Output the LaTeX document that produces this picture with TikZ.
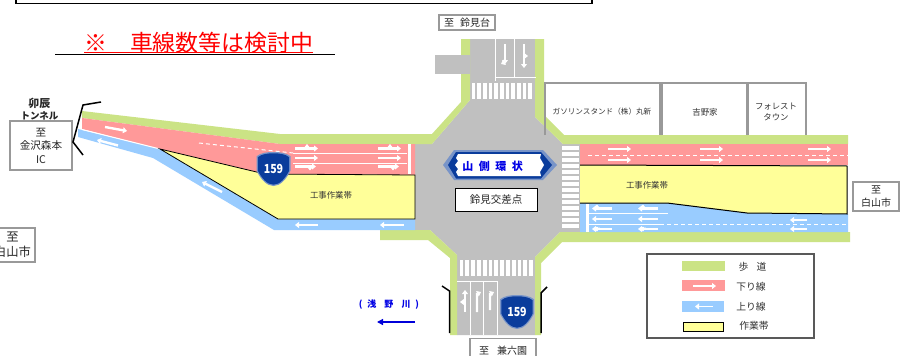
\documentclass[tikz,border=0pt]{standalone}
\usepackage{fontspec}
\setmainfont{Noto Sans CJK JP}
\usetikzlibrary{arrows.meta,patterns}
\definecolor{walk}{HTML}{CBE385}
\definecolor{down}{HTML}{FF9999}
\definecolor{up}{HTML}{99CCFF}
\definecolor{work}{HTML}{FFFF99}
\definecolor{pave}{HTML}{C0C0C0}
\definecolor{signblue}{HTML}{0A3C9C}
\definecolor{frame}{HTML}{999999}
\tikzset{
 wa/.style={white,line width=2.4pt,-{Triangle[length=4pt,width=6pt]}},
 wl/.style={white,line width=1pt},
 wd/.style={white,line width=1pt,dash pattern=on 4pt off 3pt},
 lbl/.style={inner sep=0pt,align=center,text=black!80,font=\fontsize{8.4}{11}\selectfont},
 lgl/.style={inner sep=0pt,align=center,text=black!80,font=\fontsize{9.8}{11}\selectfont},
 gbox/.style={draw=frame,line width=1.2pt,fill=white,align=center,inner sep=0pt,text=black!85},
 tun/.style={line width=1.5pt,black},
 wz/.style={draw=black,line width=.8pt,fill=work}
}
\newcommand{\shieldpath}[3]{%
 (#1-#3,#2-.75*#3) .. controls (#1-.75*#3,#2-.95*#3) and (#1-.4*#3,#2-#3) .. (#1,#2-#3) .. controls (#1+.4*#3,#2-#3) and (#1+.75*#3,#2-.95*#3) .. (#1+#3,#2-.75*#3) -- (#1+#3,#2+.1*#3) .. controls (#1+.75*#3,#2+.6*#3) and (#1+.4*#3,#2+#3) .. (#1,#2+#3) .. controls (#1-.4*#3,#2+#3) and (#1-.75*#3,#2+.6*#3) .. (#1-#3,#2+.1*#3) -- cycle}
\newcommand{\shieldsign}[3]{%
 \fill[signblue!55!white] \shieldpath{#1}{#2}{17};
 \fill[signblue] \shieldpath{#1}{#2}{15.7};
 \node[inner sep=0pt,text=white,xscale=.85,font=\fontsize{12.5}{12.5}\selectfont\bfseries] (#3) at (#1,#2) {159};
}
\begin{document}
\begin{tikzpicture}[x=1pt,y=-1pt]
\useasboundingbox (0,0) rectangle (908,356);
\fill[white] (0,0) rectangle (908,356);
% title frame
\draw[black,line width=1.7pt] (16,-5) -- (16,3.5) -- (592,3.5) -- (592,-5);
% pavement
\fill[pave] (470,39) -- (535,39) -- (535,117) -- (563,144) -- (580,144) -- (580,232) -- (560,232) -- (535,257) -- (535,335) -- (457,335) -- (457,255) -- (430,230) -- (415,230) -- (415,144) -- (432,144) -- (470,100) -- cycle;
% sidewalks
\fill[walk] (82,111) -- (280,134) -- (432,134) -- (461,102) -- (461,39) -- (470,39) -- (470,100) -- (432,144) -- (280,144) -- (82,118) -- cycle;
\fill[walk] (535,39) -- (544,39) -- (544,115) -- (564,135) -- (848,135) -- (848,144) -- (563,144) -- (535,117) -- cycle;
\fill[walk] (380,230) -- (430,230) -- (457,255) -- (457,335) -- (450,335) -- (450,258) -- (428,240) -- (380,240) -- cycle;
\fill[walk] (560,232) -- (850,232) -- (850,242) -- (562,242) -- (541,263) -- (541,335) -- (535,335) -- (535,257) -- cycle;
\fill[pave] (435,55) rectangle (470,74);
% left road
\fill[down] (82,118) -- (280,144) -- (415,144) -- (415,175) -- (265,174) -- (160,149) -- (82,129) -- cycle;
\fill[up] (78,129) -- (160,149) -- (278,219) -- (415,219) -- (415,230) -- (274,230) -- (153,158) -- (78,137) -- cycle;
\draw[wl] (82,129.5) -- (160,149);
\draw[wz] (160,149) -- (265,174) -- (415,175) -- (415,219) -- (278,219) -- cycle;
% left road markings
\draw[wd] (199,143) -- (293,153);
\draw[wl] (293,153) -- (407,153) (293,163) -- (407,163);
\draw[white,line width=3pt] (409,144) -- (409,174);
\foreach \x in {295,378}{
 \draw[wa] (\x,148.5) -- +(23,0);
 \draw[wa,line width=1.6pt] (\x+12,148.5) -- +(0,-4.5);
 \draw[wa] (\x,158) -- +(23,0);
 \draw[wa] (\x,166.5) -- +(21,0);
 \draw[wa,line width=1.6pt] (\x+15,166.5) -- +(0,4);
}
\draw[wa] (105,127) -- (127,131);
\draw[wa] (118,145.5) -- (97,140);
\draw[wa] (222,192) -- (202,182);
\draw[wa] (318,225) -- (295,225);
\draw[wa] (404,225) -- (380,225);
% right road
\fill[down] (580,144) rectangle (848,165);
\fill[up] (580,203) -- (667,203) -- (747,213) -- (848,214) -- (848,232) -- (580,232) -- cycle;
\fill[work] (580,165) -- (847,166) -- (847,214) -- (747,213) -- (667,203) -- (580,203) -- cycle;
\draw[black,line width=1pt] (580,165) -- (847,166) -- (847,214) -- (747,213) -- (667,203) -- (580,203);
\draw[wd] (588,155) -- (848,155);
\foreach \x in {608,700,808}{
 \draw[wa] (\x,149) -- +(23,0);
 \draw[wa] (\x,160) -- +(23,0);
}
\draw[wl] (588,213) -- (668,213) (588,224) -- (660,224);
\draw[wd] (660,224) -- (848,224);
\draw[white,line width=3pt] (587,204) -- (587,232);
\foreach \x in {612,658}{
 \draw[wa] (\x,208.5) -- +(-20,0);
 \draw[wa,line width=1.6pt] (\x-15,208.5) -- +(0,-4);
 \draw[wa] (\x,219) -- +(-20,0);
 \draw[wa] (\x,229) -- +(-20,0);
 \draw[wa,line width=1.6pt] (\x-15,226.5) -- +(0,5);
}
\draw[wa] (807,220) -- (790,220);
\draw[wa] (807,229) -- (790,229);
% crosswalks
\foreach \i in {0,...,10}{ \fill[white] (471.5+\i*5.67,83) rectangle +(3.7,16); }
\foreach \i in {0,...,12}{ \fill[white] (459.5+\i*5.8,260) rectangle +(3.8,16); }
\foreach \i in {0,...,13}{ \fill[white] (562,145.5+\i*6.05) rectangle +(17,4); }
% north approach
\draw[white,line width=1pt] (495,77) -- (536,77) (495,39) -- (495,81) (514.5,39) -- (514.5,77);
\draw[wa] (505,44) -- (505,64);
\draw[wa] (505,62) -- (501,64);
\draw[wa] (524,44) -- (524,68);
\draw[wa,line width=1.6pt] (524,56) -- (528,56);
% south approach
\draw[white,line width=1pt] (457,281) -- (497,281) (470,281) -- (470,335) (483,281) -- (483,335) (497,281) -- (497,335);
\draw[wa] (465,312) -- (465,290);
\draw[wa,line width=1.6pt] (465,302) -- (460,302);
\draw[wa] (477,312) -- (477,294) -- (481,292);
\draw[wa] (490,310) -- (490,294) -- (494,292);
% signs
\shieldsign{273.5}{169}{shieldw}
\shieldsign{517}{312}{shields}
% ring road sign
\fill[signblue!55!white] (443,165) -- (454,150) -- (543,150) -- (557,165) -- (543,180) -- (454,180) -- cycle;
\fill[signblue] (448,165) -- (456,152) -- (541,152) -- (552,165) -- (541,178.5) -- (456,178.5) -- cycle;
\fill[white] (455,165) -- (458,161) -- (456,158) -- (458,154) -- (541,154) -- (540,158) -- (544,165) -- (540,172) -- (541,176) -- (458,176) -- (456,172) -- (458,169) -- cycle;
\node[inner sep=0pt,text=blue!90!black,font=\fontsize{11}{11}\selectfont\bfseries] (ring) at (492.5,166) {山\hspace{5.5pt}側\hspace{5.5pt}環\hspace{5.5pt}状};
% labels
\node[draw=black,line width=1pt,fill=white,minimum width=82pt,minimum height=23pt,inner sep=0pt,text=black!85,font=\fontsize{10.5}{11}\selectfont] (cross) at (496,199.5) {鈴見交差点};
\node[lbl] (wl1) at (331,195) {工事作業帯};
\node[lbl] (wl2) at (647,185) {工事作業帯};
% buildings
\draw[frame,line width=1.2pt] (545,135) -- (545,83) -- (660,83) -- (660,135);
\draw[frame,line width=1.2pt] (662,135) -- (662,83) -- (747,83) -- (747,135);
\draw[frame,line width=1.2pt] (748,135) -- (748,83) -- (806,83) -- (806,135);
\node[lbl,font=\fontsize{7.6}{10}\selectfont] (b1) at (602,111.5) {ガソリンスタンド（株）丸新};
\node[lbl] (b2) at (705,112) {吉野家};
\node[lbl] (b3) at (776,112) {フォレスト\\タウン};
% destination boxes
\node[gbox,minimum width=62pt,minimum height=49pt,font=\fontsize{10.6}{13.5}\selectfont] (kz) at (41,145.5) {至\\金沢森本\\IC};
\node[gbox,minimum width=46pt,minimum height=29pt,font=\fontsize{10}{13}\selectfont] (hr) at (876,196.5) {至\\白山市};
\node[gbox,minimum width=45pt,minimum height=34pt,font=\fontsize{12.3}{15}\selectfont] (hl) at (12.5,245) {至\\白山市};
\node[gbox,minimum width=56pt,minimum height=15pt,font=\fontsize{10}{11}\selectfont] (sm) at (467,22.5) {至\hspace{6pt}鈴見台};
\node[gbox,minimum width=66pt,minimum height=24pt,font=\fontsize{10}{11}\selectfont,anchor=north] (kn) at (503,338) {至\hspace{8pt}兼六園};
\node[inner sep=0pt,align=center,text=black!85,font=\fontsize{9.5}{12}\selectfont\bfseries] (ut) at (39.5,109) {{\fontsize{11}{12}\selectfont 卯辰}\\トンネル};
% tunnel marks
\draw[tun] (101,102) -- (83,105) -- (73,142) -- (83,155);
\draw[tun] (442,286) -- (449.5,291) -- (449.5,333);
\draw[tun] (547,287) -- (541,293) -- (541,333);
% heading
\node[inner sep=0pt,anchor=west,text=red,font=\fontsize{22.9}{24}\selectfont] (head) at (84,43) {※\hspace{1em}車線数等は検討中};
\coordinate (rla) at (84,52.8);
\coordinate (rlb) at (313,52.8);
\coordinate (ula) at (55,54.5);
\coordinate (ulb) at (335,54.5);
\draw[red,line width=.7pt] (rla) -- (rlb);
\draw[black,line width=1.3pt] (ula) -- (ulb);
% river
\node[inner sep=0pt,text=blue!90!black,font=\fontsize{9}{10}\selectfont\bfseries] (river) at (389,305) {(\hspace{5pt}浅\hspace{8pt}野\hspace{8pt}川\hspace{5pt})};
\coordinate (ra) at (415,322);
\coordinate (rb) at (377,322);
\draw[blue!85!black,line width=1.3pt,-{Triangle[length=6pt,width=6pt]}] (ra) -- (rb);
% legend
\node[draw=black!65,line width=1.1pt,fill=white,minimum width=167pt,minimum height=84pt,inner sep=0pt] (legend) at (730.5,296) {};
\fill[walk] (682,261) rectangle (725,271);
\fill[down] (682,280) rectangle (725,291);
\draw[wa,line width=1.8pt] (693,286) -- (716,286);
\fill[up] (682,301) rectangle (724,312);
\draw[wa,line width=1.8pt] (713,306.5) -- (695,306.5);
\draw[draw=black,line width=1pt,fill=work] (683,322) rectangle (723,331);
\node[lgl] (l1) at (752.5,267) {歩\hspace{8pt}道};
\node[lgl] (l2) at (751,287) {下り線};
\node[lgl] (l3) at (751,307) {上り線};
\node[lgl] (l4) at (754,326) {作業帯};
\end{tikzpicture}
\end{document}
